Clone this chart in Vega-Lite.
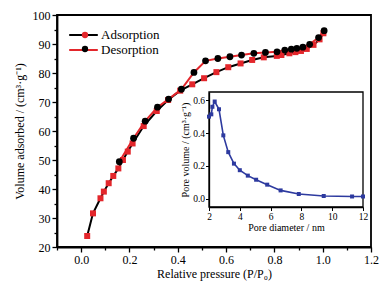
{
  "$schema": "https://vega.github.io/schema/vega-lite/v6.json",
  "width": 314,
  "height": 232,
  "autosize": {"type": "none"},
  "padding": {"left": 57, "top": 15, "right": 18, "bottom": 35},
  "background": "white",
  "config": {
    "view": {"stroke": "black", "strokeWidth": 1.8},
    "font": "Times New Roman, Liberation Serif, serif",
    "style": {"guide-label": {"font": "Times New Roman, Liberation Serif, serif", "fill": "black"}, "guide-title": {"font": "Times New Roman, Liberation Serif, serif", "fill": "black", "fontWeight": "normal"}},
    "axis": {"grid": false, "domainColor": "black", "domainWidth": 1.8, "tickColor": "black", "tickWidth": 1.3, "labelColor": "black", "titleColor": "black", "labelFont": "Times New Roman, Liberation Serif, serif", "titleFont": "Times New Roman, Liberation Serif, serif", "titleFontWeight": "normal", "labelOverlap": false, "labelBound": false},
    "legend": {"labelFont": "Times New Roman, Liberation Serif, serif", "labelColor": "black"}
  },
  "datasets": {
    "iso": [
      {"series": "Adsorption", "p": 0.025, "v": 23.8},
      {"series": "Adsorption", "p": 0.049, "v": 31.6},
      {"series": "Adsorption", "p": 0.080, "v": 36.8},
      {"series": "Adsorption", "p": 0.094, "v": 39.1},
      {"series": "Adsorption", "p": 0.114, "v": 42.0},
      {"series": "Adsorption", "p": 0.133, "v": 44.5},
      {"series": "Adsorption", "p": 0.154, "v": 47.1},
      {"series": "Adsorption", "p": 0.173, "v": 50.0},
      {"series": "Adsorption", "p": 0.193, "v": 52.9},
      {"series": "Adsorption", "p": 0.213, "v": 55.7},
      {"series": "Adsorption", "p": 0.259, "v": 61.7},
      {"series": "Adsorption", "p": 0.313, "v": 66.9},
      {"series": "Adsorption", "p": 0.360, "v": 70.7},
      {"series": "Adsorption", "p": 0.410, "v": 73.9},
      {"series": "Adsorption", "p": 0.460, "v": 76.1},
      {"series": "Adsorption", "p": 0.509, "v": 78.2},
      {"series": "Adsorption", "p": 0.560, "v": 80.3},
      {"series": "Adsorption", "p": 0.609, "v": 82.0},
      {"series": "Adsorption", "p": 0.660, "v": 83.3},
      {"series": "Adsorption", "p": 0.708, "v": 84.5},
      {"series": "Adsorption", "p": 0.756, "v": 85.4},
      {"series": "Adsorption", "p": 0.810, "v": 85.9},
      {"series": "Adsorption", "p": 0.829, "v": 86.2},
      {"series": "Adsorption", "p": 0.862, "v": 86.8},
      {"series": "Adsorption", "p": 0.887, "v": 87.2},
      {"series": "Adsorption", "p": 0.910, "v": 87.6},
      {"series": "Adsorption", "p": 0.934, "v": 88.3},
      {"series": "Adsorption", "p": 0.962, "v": 89.7},
      {"series": "Adsorption", "p": 0.987, "v": 91.6},
      {"series": "Adsorption", "p": 1.003, "v": 93.7},
      {"series": "Desorption", "p": 1.006, "v": 94.6},
      {"series": "Desorption", "p": 0.983, "v": 92.2},
      {"series": "Desorption", "p": 0.946, "v": 89.9},
      {"series": "Desorption", "p": 0.918, "v": 88.9},
      {"series": "Desorption", "p": 0.893, "v": 88.5},
      {"series": "Desorption", "p": 0.870, "v": 88.2},
      {"series": "Desorption", "p": 0.843, "v": 87.9},
      {"series": "Desorption", "p": 0.811, "v": 87.3},
      {"series": "Desorption", "p": 0.763, "v": 87.1},
      {"series": "Desorption", "p": 0.715, "v": 86.8},
      {"series": "Desorption", "p": 0.664, "v": 86.2},
      {"series": "Desorption", "p": 0.616, "v": 85.6},
      {"series": "Desorption", "p": 0.566, "v": 85.0},
      {"series": "Desorption", "p": 0.515, "v": 84.2},
      {"series": "Desorption", "p": 0.467, "v": 80.2},
      {"series": "Desorption", "p": 0.415, "v": 74.4},
      {"series": "Desorption", "p": 0.362, "v": 71.0},
      {"series": "Desorption", "p": 0.316, "v": 68.2},
      {"series": "Desorption", "p": 0.265, "v": 63.4},
      {"series": "Desorption", "p": 0.217, "v": 57.5},
      {"series": "Desorption", "p": 0.158, "v": 49.4}
    ],
    "pore": [
      {"d": 2.0, "pv": 0.500},
      {"d": 2.15, "pv": 0.514},
      {"d": 2.22, "pv": 0.560},
      {"d": 2.37, "pv": 0.592},
      {"d": 2.65, "pv": 0.545},
      {"d": 2.93, "pv": 0.386},
      {"d": 3.25, "pv": 0.284},
      {"d": 3.62, "pv": 0.214},
      {"d": 4.0, "pv": 0.174},
      {"d": 4.52, "pv": 0.141},
      {"d": 5.06, "pv": 0.116},
      {"d": 5.78, "pv": 0.086},
      {"d": 6.65, "pv": 0.051},
      {"d": 7.83, "pv": 0.029},
      {"d": 9.45, "pv": 0.017},
      {"d": 11.29, "pv": 0.014},
      {"d": 12.0, "pv": 0.014}
    ],
    "frame": [{"x0": 2, "x1": 12, "y0": -0.05, "y1": 0.65}]
  },
  "layer": [
    {
      "data": {"name": "iso"},
      "encoding": {
        "x": {"field": "p", "type": "quantitative", "scale": {"domain": [-0.1, 1.2], "nice": false, "zero": false},
          "axis": {"title": "Relative pressure (P/P₀)", "values": [-0.1, 0, 0.1, 0.2, 0.3, 0.4, 0.5, 0.6, 0.7, 0.8, 0.9, 1.0, 1.1, 1.2],
            "labelExpr": "round(datum.value*10)%2==0 ? format(datum.value,'.1f') : ''",
            "tickSize": {"condition": {"test": "round(datum.value*10)%2==0", "value": 5}, "value": 3},
            "labelOverlap": false, "labelFontSize": 12, "titleFontSize": 12, "labelPadding": 2, "titlePadding": 3, "labelFlush": false}},
        "y": {"field": "v", "type": "quantitative", "scale": {"domain": [20, 100], "nice": false, "zero": false},
          "axis": {"title": "Volume adsorbed / (cm³·g⁻¹)", "values": [20, 25, 30, 35, 40, 45, 50, 55, 60, 65, 70, 75, 80, 85, 90, 95, 100],
            "labelExpr": "datum.value%10==0 ? datum.value : ''",
            "tickSize": {"condition": {"test": "datum.value%10==0", "value": 5}, "value": 3},
            "labelOverlap": false, "labelFontSize": 12, "titleFontSize": 12, "labelPadding": 2, "titlePadding": 6, "labelFlush": false}}
      },
      "layer": [
        {
          "mark": {"type": "line", "strokeWidth": 2},
          "encoding": {
            "stroke": {"field": "series", "type": "nominal",
              "scale": {"domain": ["Adsorption", "Desorption"], "range": ["black", "#e3262b"]},
              "legend": {"title": null, "orient": "none", "legendX": 20, "legendY": 13.5, "padding": 0,
                "symbolType": "M-2.6,0H2.6", "symbolSize": 121, "symbolStrokeWidth": 2, "symbolFillColor": "transparent",
                "labelFontSize": 13, "labelOffset": 11, "rowPadding": 1}},
            "order": {"field": "p", "type": "quantitative"}
          }
        },
        {
          "mark": {"type": "point", "filled": true, "opacity": 1},
          "encoding": {
            "fill": {"field": "series", "type": "nominal",
              "scale": {"range": ["#e3262b", "black"]},
              "legend": {"title": null, "orient": "none", "legendX": 22, "legendY": 14, "padding": 0,
                "symbolSize": 40, "labelExpr": "''", "labelFontSize": 12, "rowPadding": 2, "symbolStrokeWidth": 0}},
            "shape": {"field": "series", "type": "nominal", "scale": {"range": ["square", "circle"]},
              "legend": {"title": null, "orient": "none", "legendX": 22, "legendY": 14, "padding": 0,
                "symbolSize": 40, "labelExpr": "''", "labelFontSize": 12, "rowPadding": 2, "symbolStrokeWidth": 0}},
            "size": {"field": "series", "type": "nominal", "scale": {"range": [36, 46]}, "legend": null}
          }
        }
      ]
    },
    {
      "layer": [
        {
          "data": {"name": "frame"},
          "mark": {"type": "rect", "fill": null, "stroke": "black", "strokeWidth": 1.3},
          "encoding": {
            "x": {"field": "x0", "type": "quantitative", "scale": {"domain": [2, 12], "range": [152, 306], "nice": false, "zero": false},
              "axis": {"title": "Pore diameter / nm", "orient": "bottom", "offset": -40,
                "values": [2, 2.5, 3, 3.5, 4, 4.5, 5, 5.5, 6, 6.5, 7, 7.5, 8, 8.5, 9, 9.5, 10, 10.5, 11, 11.5, 12],
                "labelExpr": "datum.value%1==0 ? datum.value : ''",
                "tickSize": {"condition": {"test": "datum.value%1==0", "value": 3.5}, "value": 2},
                "labelOverlap": false, "domainWidth": 1.3, "tickWidth": 1, "labelFontSize": 9.5, "titleFontSize": 10, "labelPadding": 1, "titlePadding": 1, "labelFlush": false}},
            "x2": {"field": "x1"},
            "y": {"field": "y0", "type": "quantitative", "scale": {"domain": [-0.05, 0.65], "range": [192, 77], "nice": false, "zero": false},
              "axis": {"title": "Pore volume / (cm³·g⁻¹)", "orient": "left", "offset": -152,
                "values": [0, 0.1, 0.2, 0.3, 0.4, 0.5, 0.6], "format": ".1f",
                "tickSize": 3.5,
                "labelOverlap": false, "domainWidth": 1.3, "tickWidth": 1, "labelFontSize": 9.5, "titleFontSize": 10, "labelPadding": 1, "titlePadding": 2, "labelFlush": false}},
            "y2": {"field": "y1"}
          }
        },
        {
          "data": {"name": "pore"},
          "mark": {"type": "line", "stroke": "#2d3a9f", "strokeWidth": 1.6, "point": {"shape": "square", "size": 16, "filled": true, "fill": "#2d3a9f", "opacity": 1}},
          "encoding": {
            "x": {"field": "d", "type": "quantitative"},
            "y": {"field": "pv", "type": "quantitative"}
          }
        }
      ]
    }
  ],
  "resolve": {"scale": {"x": "independent", "y": "independent", "fill": "independent", "stroke": "independent"}, "axis": {"x": "independent", "y": "independent"}}
}
